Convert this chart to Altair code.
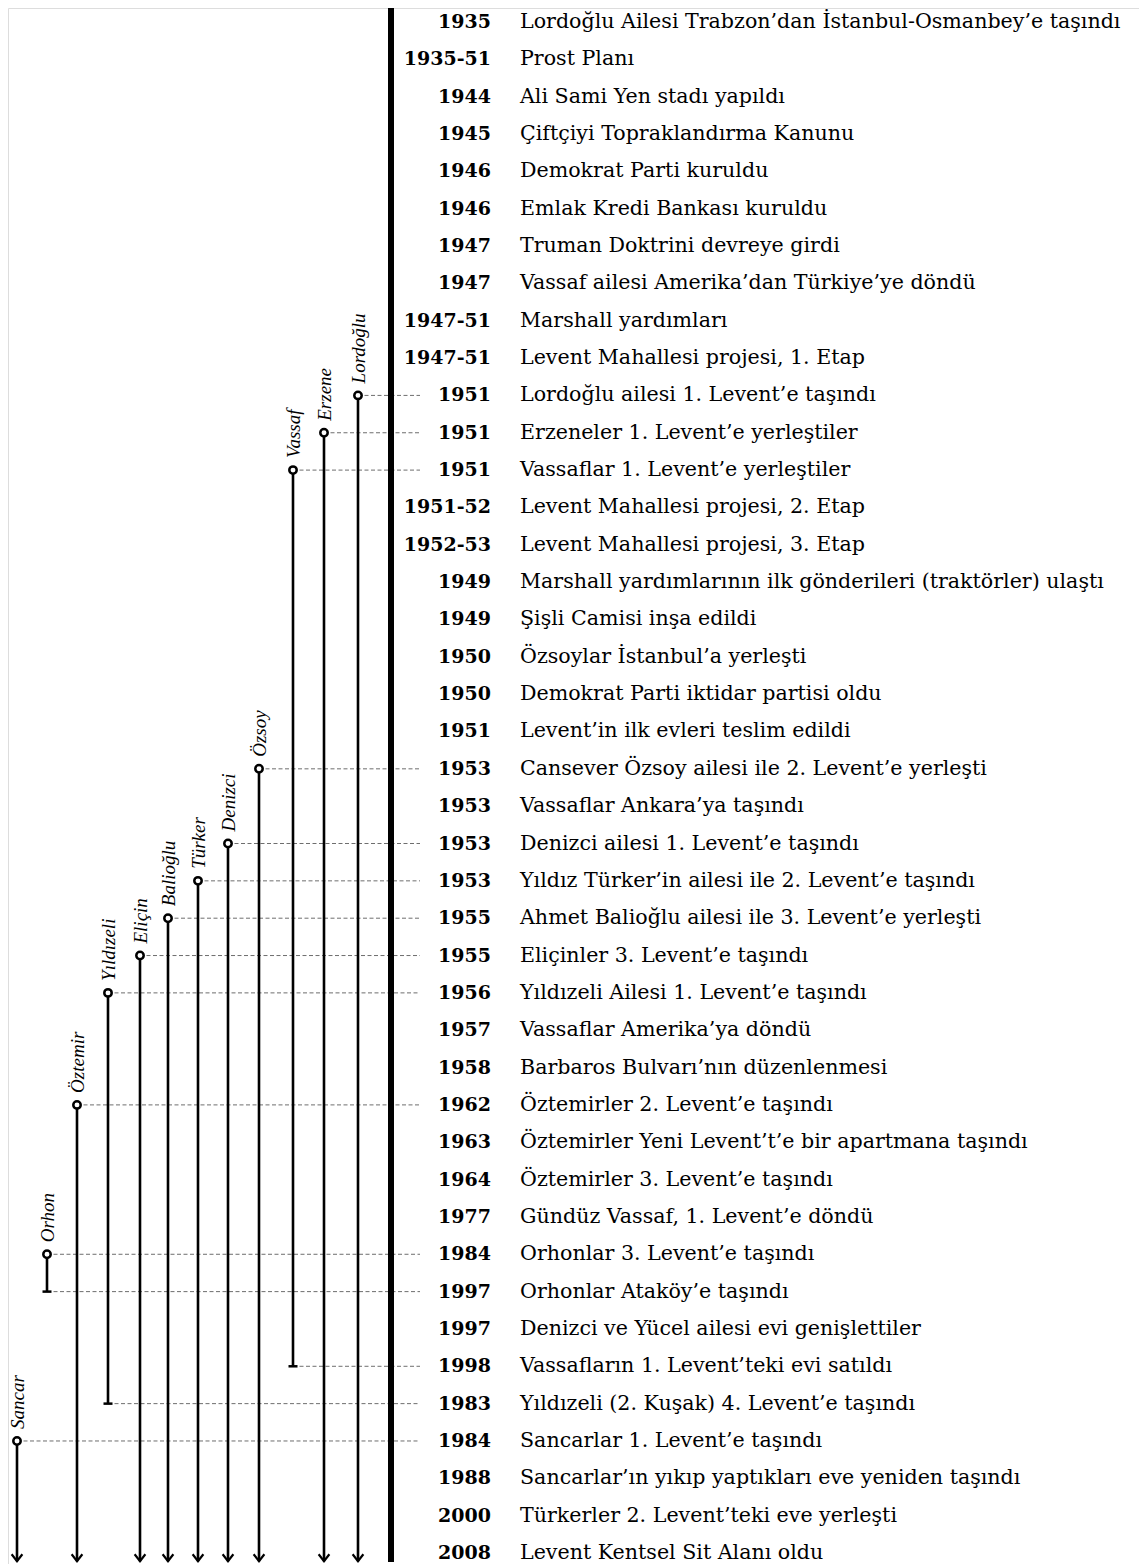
import altair as alt
import pandas as pd

years = ["1935", "1935-51", "1944", "1945", "1946", "1946", "1947", "1947", "1947-51", "1947-51",
         "1951", "1951", "1951", "1951-52", "1952-53", "1949", "1949", "1950", "1950", "1951",
         "1953", "1953", "1953", "1953", "1955", "1955", "1956", "1957", "1958", "1962",
         "1963", "1964", "1977", "1984", "1997", "1997", "1998", "1983", "1984", "1988",
         "2000", "2008"]
events = [
    "Lordoğlu Ailesi Trabzon’dan İstanbul-Osmanbey’e taşındı",
    "Prost Planı",
    "Ali Sami Yen stadı yapıldı",
    "Çiftçiyi Topraklandırma Kanunu",
    "Demokrat Parti kuruldu",
    "Emlak Kredi Bankası kuruldu",
    "Truman Doktrini devreye girdi",
    "Vassaf ailesi Amerika’dan Türkiye’ye döndü",
    "Marshall yardımları",
    "Levent Mahallesi projesi, 1. Etap",
    "Lordoğlu ailesi 1. Levent’e taşındı",
    "Erzeneler 1. Levent’e yerleştiler",
    "Vassaflar 1. Levent’e yerleştiler",
    "Levent Mahallesi projesi, 2. Etap",
    "Levent Mahallesi projesi, 3. Etap",
    "Marshall yardımlarının ilk gönderileri (traktörler) ulaştı",
    "Şişli Camisi inşa edildi",
    "Özsoylar İstanbul’a yerleşti",
    "Demokrat Parti iktidar partisi oldu",
    "Levent’in ilk evleri teslim edildi",
    "Cansever Özsoy ailesi ile 2. Levent’e yerleşti",
    "Vassaflar Ankara’ya taşındı",
    "Denizci ailesi 1. Levent’e taşındı",
    "Yıldız Türker’in ailesi ile 2. Levent’e taşındı",
    "Ahmet Balioğlu ailesi ile 3. Levent’e yerleşti",
    "Eliçinler 3. Levent’e taşındı",
    "Yıldızeli Ailesi 1. Levent’e taşındı",
    "Vassaflar Amerika’ya döndü",
    "Barbaros Bulvarı’nın düzenlenmesi",
    "Öztemirler 2. Levent’e taşındı",
    "Öztemirler Yeni Levent’t’e bir apartmana taşındı",
    "Öztemirler 3. Levent’e taşındı",
    "Gündüz Vassaf, 1. Levent’e döndü",
    "Orhonlar 3. Levent’e taşındı",
    "Orhonlar Ataköy’e taşındı",
    "Denizci ve Yücel ailesi evi genişlettiler",
    "Vassafların 1. Levent’teki evi satıldı",
    "Yıldızeli (2. Kuşak) 4. Levent’e taşındı",
    "Sancarlar 1. Levent’e taşındı",
    "Sancarlar’ın yıkıp yaptıkları eve yeniden taşındı",
    "Türkerler 2. Levent’teki eve yerleşti",
    "Levent Kentsel Sit Alanı oldu",
]
families = ["Sancar", "Orhon", "Öztemir", "Yıldızeli", "Eliçin", "Balioğlu",
            "Türker", "Denizci", "Özsoy", "Vassaf", "Erzene", "Lordoğlu"]
family_start_row = [38, 33, 29, 26, 25, 24, 23, 22, 20, 12, 11, 10]
family_end_row = [None, 34, None, 37, None, None, None, None, None, 36, None, None]

# layout (scale ranges, pixels)
N = len(years)
ROW_RANGE = [14, 1545]
FAMILY_X = [9, 39, 69, 100, 132, 160, 190, 220, 251, 285, 316, 350]
ARROW_ROW = N - 1 + 0.22

rows = pd.DataFrame({"row": list(range(N)), "year": years, "event": events})
fam = pd.DataFrame({
    "family": families,
    "fx": list(range(len(families))),
    "start": family_start_row,
    "end": [e if e is not None else ARROW_ROW for e in family_end_row],
    "ended": [e is not None for e in family_end_row],
})
links = pd.concat([
    fam[["fx", "start"]].rename(columns={"start": "row"}),
    fam[fam["ended"]][["fx", "end"]].rename(columns={"end": "row"}),
])

yscale = alt.Scale(domain=[0, N - 1], range=ROW_RANGE, padding=0, nice=False, zero=False)
xscale = alt.Scale(domain=list(range(len(families))), range=FAMILY_X, padding=0, nice=False, zero=False)

def Y(field):
    return alt.Y(field, type="quantitative", scale=yscale, axis=None)

def X(field):
    return alt.X(field, type="quantitative", scale=xscale, axis=None)

dashed = alt.Chart(links).mark_rule(color="#6e6e6e", strokeWidth=1, strokeDash=[4, 2.5]).encode(
    x=X("fx"), x2=alt.value(412), y=Y("row"))

lines = alt.Chart(fam).mark_rule(color="black", strokeWidth=2.6).encode(
    x=X("fx"), y=Y("start"), y2="end")

bar = alt.Chart(rows).mark_rule(color="black", strokeWidth=6).encode(
    x=alt.value(383), y=alt.value(0), y2=alt.value(1554))

circles = alt.Chart(fam).mark_point(shape="circle", filled=True, fill="white", stroke="black",
                                    strokeWidth=2.5, size=55, opacity=1).encode(
    x=X("fx"), y=Y("start"))

ticks = alt.Chart(fam[fam["ended"]]).mark_point(shape="M-1,0L1,0", filled=False, stroke="black",
                                                strokeWidth=2.5, size=81, opacity=1).encode(
    x=X("fx"), y=Y("end"))

arrows = alt.Chart(fam[~fam["ended"]]).mark_point(shape="M-1,-1.3L0,0L1,-1.3", filled=False,
                                                  stroke="black", strokeWidth=2.2, size=115, opacity=1).encode(
    x=X("fx"), y=Y("end"))

labels = alt.Chart(fam).mark_text(angle=270, align="left", baseline="middle", dx=12, dy=1,
                                  font="Liberation Serif", fontStyle="italic", fontSize=19,
                                  color="black").encode(
    x=X("fx"), y=Y("start"), text="family")

year_text = alt.Chart(rows).mark_text(align="right", baseline="middle", font="DejaVu Serif",
                                      fontWeight="bold", fontSize=19, color="black").encode(
    x=alt.value(483), y=Y("row"), text="year")

event_text = alt.Chart(rows).mark_text(align="left", baseline="middle", font="DejaVu Serif",
                                       fontSize=20.6, color="black").encode(
    x=alt.value(512), y=Y("row"), text="event")

chart = alt.layer(dashed, lines, bar, circles, ticks, arrows, labels, year_text, event_text).properties(
    width=1131, height=1556, padding=0, autosize=alt.AutoSizeParams(type="none")
).configure_view(strokeWidth=0, stroke="transparent").configure(background="white")

chart.save("out.html", embed_options={"renderer": "svg", "actions": False})
